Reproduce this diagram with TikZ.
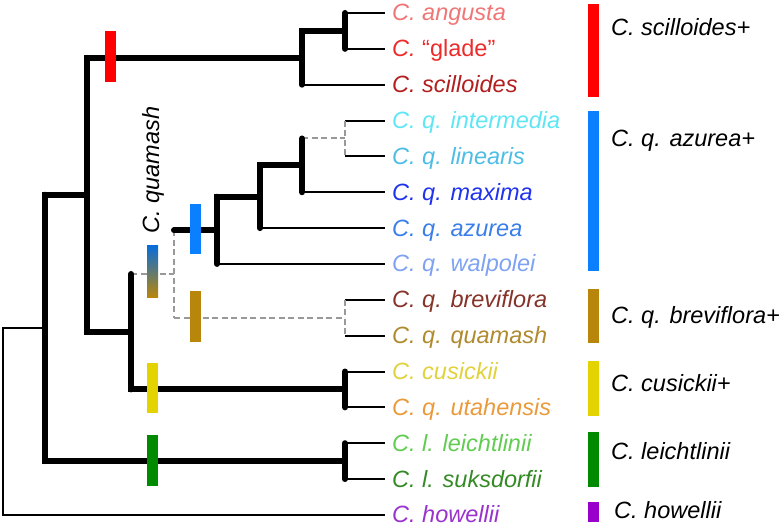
\documentclass[tikz,border=0pt]{standalone}
\usepackage{fontspec}
\setmainfont{Liberation Sans}
\definecolor{cAng}{HTML}{F07575}
\definecolor{cGla}{HTML}{EE2A2A}
\definecolor{cSci}{HTML}{B21F1F}
\definecolor{cInt}{HTML}{5EE6F5}
\definecolor{cLin}{HTML}{4DBDE6}
\definecolor{cMax}{HTML}{1F33EE}
\definecolor{cAzu}{HTML}{3A7EEA}
\definecolor{cWal}{HTML}{7FA2F2}
\definecolor{cBre}{HTML}{86332A}
\definecolor{cQua}{HTML}{B08A2E}
\definecolor{cCus}{HTML}{E2D13E}
\definecolor{cUta}{HTML}{EA9A3A}
\definecolor{cLle}{HTML}{62CC52}
\definecolor{cSuk}{HTML}{358A26}
\definecolor{cHow}{HTML}{9A33CC}
\definecolor{bRed}{HTML}{FF0000}
\definecolor{bBlue}{HTML}{0A80FF}
\definecolor{bBrown}{HTML}{B8860B}
\definecolor{bYellow}{HTML}{E3D300}
\definecolor{bGreen}{HTML}{008A00}
\definecolor{bPurple}{HTML}{9900CC}
\definecolor{dgray}{HTML}{999999}
\tikzset{
  thk/.style={line width=6pt, line cap=rect},
  vthk/.style={line width=6pt, line cap=round},
  tipline/.style={line width=2pt},
  rootline/.style={line width=1.6pt},
  dsh/.style={line width=2pt, draw=dgray, dash pattern=on 6pt off 3.5pt},
  lab/.style={anchor=base west, inner sep=0pt, font=\fontsize{23.5}{28}\selectfont\itshape},
}
\begin{document}
\begin{tikzpicture}[x=1pt,y=-1pt]
\useasboundingbox (0,0) rectangle (783,526);
% tip end points
\coordinate (t1) at (385,13.0);
\coordinate (t2) at (385,48.85);
\coordinate (t3) at (385,84.7);
\coordinate (t4) at (385,120.55);
\coordinate (t5) at (385,156.4);
\coordinate (t6) at (385,192.25);
\coordinate (t7) at (385,228.1);
\coordinate (t8) at (385,263.95);
\coordinate (t9) at (385,299.8);
\coordinate (t10) at (385,335.65);
\coordinate (t11) at (385,371.5);
\coordinate (t12) at (385,407.35);
\coordinate (t13) at (385,443.2);
\coordinate (t14) at (385,479.05);
\coordinate (t15) at (385,514.9);
% internal nodes
\coordinate (nAG) at (345,30.9);
\coordinate (nSc) at (302,57.8);
\coordinate (nIL) at (345,138.5);
\coordinate (nQA) at (302,165.4);
\coordinate (nX) at (260,196.75);
\coordinate (nAz) at (217,230.35);
\coordinate (nBQ) at (345,317.7);
\coordinate (nQ) at (174,274.0);
\coordinate (nCU) at (345,389.4);
\coordinate (nQC) at (131,331.7);
\coordinate (nA) at (87,194.75);
\coordinate (nL) at (345,461.1);
\coordinate (nB) at (45,327.9);
\coordinate (root) at (3,421.4);

% tip labels
\node[lab, text=cAng] (L1) at (392,21.0) {C. angusta};
\node[lab, text=cGla] (L2) at (392,56.85) {C. \upshape “glade”};
\node[lab, text=cSci] (L3) at (392,92.7) {C. scilloides};
\node[lab, text=cInt] (L4) at (392,128.55) {C. q. intermedia};
\node[lab, text=cLin] (L5) at (392,164.4) {C. q. linearis};
\node[lab, text=cMax] (L6) at (392,200.25) {C. q. maxima};
\node[lab, text=cAzu] (L7) at (392,236.1) {C. q. azurea};
\node[lab, text=cWal] (L8) at (392,271.95) {C. q. walpolei};
\node[lab, text=cBre] (L9) at (392,307.8) {C. q. breviflora};
\node[lab, text=cQua] (L10) at (392,343.65) {C. q. quamash};
\node[lab, text=cCus] (L11) at (392,379.5) {C. cusickii};
\node[lab, text=cUta] (L12) at (392,415.35) {C. q. utahensis};
\node[lab, text=cLle] (L13) at (392,451.2) {C. l. leichtlinii};
\node[lab, text=cSuk] (L14) at (392,487.05) {C. l. suksdorfii};
\node[lab, text=cHow] (L15) at (392,522.2) {C. howellii};

% clade labels
\node[lab] (G1) at (611,36) {C. scilloides+};
\node[lab] (G2) at (611,147) {C. q. azurea+};
\node[lab] (G3) at (611,323) {C. q. breviflora+};
\node[lab] (G4) at (611,391) {C. cusickii+};
\node[lab] (G5) at (611,459) {C. leichtlinii};
\node[lab] (G6) at (614,518) {C. howellii};
\node[inner sep=0pt, rotate=90, font=\fontsize{23.5}{28}\selectfont\itshape] (Qlab) at (153,170) {C. quamash};

% tip branches (thin)
\draw[tipline] (nAG |- t1) -- (t1);
\draw[tipline] (nAG |- t2) -- (t2);
\draw[tipline] (nSc |- t3) -- (t3);
\draw[tipline] (nIL |- t4) -- (t4);
\draw[tipline] (nIL |- t5) -- (t5);
\draw[tipline] (nQA |- t6) -- (t6);
\draw[tipline] (nX |- t7) -- (t7);
\draw[tipline] (nAz |- t8) -- (t8);
\draw[tipline] (nBQ |- t9) -- (t9);
\draw[tipline] (nBQ |- t10) -- (t10);
\draw[tipline] (nCU |- t11) -- (t11);
\draw[tipline] (nCU |- t12) -- (t12);
\draw[tipline] (nL |- t13) -- (t13);
\draw[tipline] (nL |- t14) -- (t14);
\draw[rootline, line join=miter] (nB) -| (root) |- (t15);

% dashed branches
\draw[dsh] (nQA |- nIL) -- (nIL);
\draw[dsh] (nIL |- t4) -- (nIL |- t5);
\draw[dsh] (nQC |- nQ) -- (nQ);
\draw[dsh] (nQ |- nAz) -- (nQ |- nBQ);
\draw[dsh] (nQ |- nBQ) -- (nBQ);
\draw[dsh] (nBQ |- t9) -- (nBQ |- t10);

% thick horizontal branches
\draw[thk] (nSc |- nAG) -- (nAG);
\draw[thk] (nA |- nSc) -- (nSc);
\draw[thk] (nX |- nQA) -- (nQA);
\draw[thk] (nAz |- nX) -- (nX);
\draw[line width=6pt, line cap=round] (nQ |- nAz) -- (nAz);
\draw[thk] (nQC |- nCU) -- (nCU);
\draw[thk] (nA |- nQC) -- (nQC);
\draw[thk] (nB |- nA) -- (nA);
\draw[thk] (nB |- nL) -- (nL);

% thick vertical branches
\draw[vthk] (nAG |- t1) -- (nAG |- t2);
\draw[vthk] (nSc |- nAG) -- (nSc |- t3);
\draw[vthk] (nQA |- nIL) -- (nQA |- t6);
\draw[vthk] (nX |- nQA) -- (nX |- t7);
\draw[vthk] (nAz |- nX) -- (nAz |- t8);
\draw[vthk] (nCU |- t11) -- (nCU |- t12);
\draw[vthk] (nQC |- nQ) -- (nQC |- nCU);
\draw[vthk] (nA |- nSc) -- (nA |- nQC);
\draw[vthk] (nL |- t13) -- (nL |- t14);
\draw[vthk] (nB |- nA) -- (nB |- nL);

% branch marks
\fill[bRed] (105,31) rectangle (116,82);
\fill[bBlue] (190,204) rectangle (201,254);
\shade[top color=bBlue!85!black, bottom color=bBrown] (147,246) rectangle (158,297);
\fill[bBrown] (190,291) rectangle (201,342);
\fill[bYellow] (147,363) rectangle (158,413);
\fill[bGreen] (147,435) rectangle (158,486);

% clade bars
\fill[bRed] (588,4) rectangle (599,97);
\fill[bBlue] (588,111) rectangle (599,271);
\fill[bBrown] (588,289) rectangle (599,343);
\fill[bYellow] (588,361) rectangle (599,416);
\fill[bGreen] (588,432) rectangle (599,487);
\fill[bPurple] (588,502) rectangle (599,522);
\end{tikzpicture}
\end{document}
